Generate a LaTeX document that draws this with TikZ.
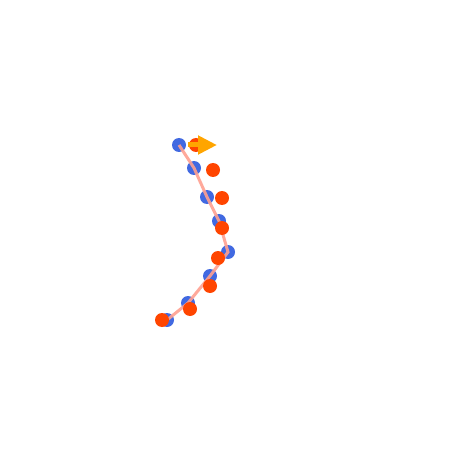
\documentclass[tikz,border=0pt]{standalone}
\usetikzlibrary{arrows.meta}
\definecolor{trackblue}{HTML}{4169E1}
\definecolor{predred}{HTML}{FF4500}
\definecolor{linkpink}{HTML}{FFA090}
\definecolor{headorange}{HTML}{FFA500}
\tikzset{
  truedot/.style={circle, fill=trackblue, inner sep=0pt, minimum size=14pt},
  preddot/.style={circle, fill=predred, inner sep=0pt, minimum size=14pt},
  link/.style={draw=linkpink, line width=3pt, opacity=0.9}
}
\begin{document}
\begin{tikzpicture}[x=1pt, y=-1pt]
\useasboundingbox (0,0) rectangle (469,470);
\node[truedot] (t1) at (179,145) {};
\node[truedot] (t2) at (194,168) {};
\node[truedot] (t3) at (207,197) {};
\node[truedot] (t4) at (219,221) {};
\node[truedot] (t5) at (228,252) {};
\node[truedot] (t6) at (210,276) {};
\node[truedot] (t7) at (188,303) {};
\node[truedot] (t8) at (167,320) {};
\draw[link] (t1.center) -- (t2.center) -- (t3.center) -- (t4.center) -- (t5.center) -- (t6.center) -- (t7.center) -- (t8.center);
\node[preddot] (p1) at (196,145) {};
\node[preddot] (p2) at (213,170) {};
\node[preddot] (p3) at (222,198) {};
\node[preddot] (p4) at (222,228) {};
\node[preddot] (p5) at (218,258) {};
\node[preddot] (p6) at (210,286) {};
\node[preddot] (p7) at (190,309) {};
\node[preddot] (p8) at (162,320) {};
\coordinate (s) at (188,145);
\coordinate (e) at (217,145);
\draw[headorange, line width=5pt, -{Triangle[length=19pt, width=18pt]}] (s) -- (e);
\end{tikzpicture}
\end{document}
